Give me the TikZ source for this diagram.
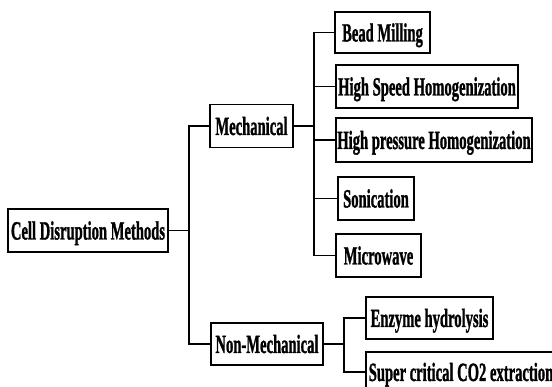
\documentclass[tikz,border=0pt]{standalone}
\usepackage{fontspec}
\setmainfont{Liberation Serif}[BoldFeatures={FakeBold=1.5}]
\usepackage{graphicx}
\usepackage{tikz}
\tikzset{
methodbox/.style={
	  draw, line width=1.2pt, inner sep=0pt,
	    text height=18pt, text depth=0pt, minimum height=43pt,
    font=\fontsize{14.6}{17}\selectfont\bfseries}
}
\newcommand{\tall}[1]{\scalebox{1}[1.8]{#1}}

\begin{document}
\begin{tikzpicture}[x=1pt, y=-1pt, line width=1.2pt]
	\useasboundingbox (0,0) rectangle (552,387);
	\clip (0,0) rectangle (552,387);
	\node[methodbox, minimum width=160pt] (root) at (88,230.5) {\tall{Cell Disruption Methods}};
	\node[methodbox, minimum width=83pt] (mech) at (251.5,126) {\tall{Mechanical}};
	\node[methodbox, minimum width=112pt, minimum height=42pt] (nonmech) at (267,344) {\tall{Non-Mechanical}};
	% mechanical methods
	\node[methodbox, minimum width=95pt, minimum height=41pt] (bead) at (382.5,32.5) {\tall{Bead Milling}};
	\node[methodbox, minimum width=182pt] (speed) at (427,86.5) {\tall{High Speed Homogenization}};
	\node[methodbox, minimum width=196pt, minimum height=44pt] (pressure) at (434,140) {\tall{High pressure Homogenization}};
	\node[methodbox, minimum width=76pt] (sonic) at (376,198.5) {\tall{Sonication}};
	\node[methodbox, minimum width=85pt] (micro) at (378.5,255.5) {\tall{Microwave}};
	% non-mechanical methods
	\node[methodbox, minimum width=127pt, minimum height=42pt] (enzyme) at (429.5,318) {\tall{Enzyme hydrolysis}};
	\node[methodbox, minimum width=190pt, minimum height=40pt] (scco2) at (461,372) {\tall{Super critical CO2 extraction}};
	\coordinate (j1) at (189,230.5);
	\coordinate (j2) at (314,126);
	\coordinate (j3) at (344,344);
	\draw (root.east) -- (j1);
	\draw (mech.west) -| (j1) |- (nonmech.west);
	\draw (mech.east) -- (j2);
	\draw (bead.west) -| (j2) |- (micro.west);
	\draw (speed.west) -- (speed.west -| j2);
	\draw (pressure.west) -- (pressure.west -| j2);
	\draw (sonic.west) -- (sonic.west -| j2);
	\draw (nonmech.east) -- (j3);
	\draw (enzyme.west) -| (j3) |- (scco2.west);
\end{tikzpicture}
\end{document}
